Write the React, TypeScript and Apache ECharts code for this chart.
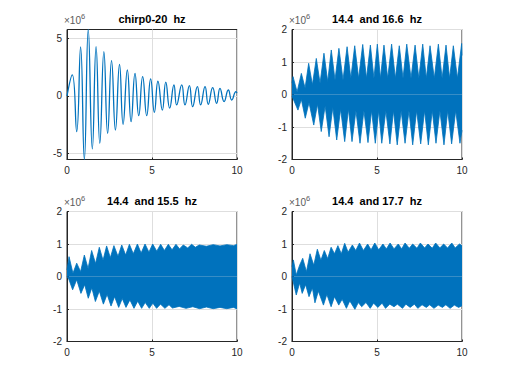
import React, { useEffect, useRef } from 'react';
import * as echarts from 'echarts';

const TITLES = ['chirp0-20  hz', '14.4  and 16.6  hz', '14.4  and 15.5  hz', '14.4  and 17.7  hz'];
const X_TICKS = [0, 5, 10];
const Y1_TICKS = [-5, 0, 5];
const Y1_MIN = -5.52;
const Y1_MAX = 5.78;
const EXPONENT = '6';

// chirp (panel 1): extremes
const chirpT = [0, 0.31, 0.57, 0.8, 1.02, 1.25, 1.49, 1.71, 1.93, 2.17, 2.39, 2.62, 2.85, 3.09, 3.3, 3.55, 3.77, 4.0, 4.22, 4.45, 4.69, 4.92, 5.14, 5.35, 5.61, 5.81, 6.04, 6.29, 6.45, 6.75, 6.94, 7.2, 7.39, 7.67, 7.86, 8.12, 8.31, 8.57, 8.8, 9.0, 9.24, 9.49, 9.69, 9.94, 10];
const chirpV = [0, 1.83, -3.1, 4.27, -5.52, 5.78, -4.6, 4.29, -4.12, 3.85, -3.25, 3.08, -2.96, 2.75, -2.46, 2.26, -2.23, 1.97, -1.71, 1.68, -1.71, 1.48, -1.42, 1.28, -1.22, 1.2, -1.05, 0.96, -0.78, 0.96, -0.78, 0.9, -0.93, 0.81, -0.78, 0.81, -0.72, 0.72, -0.64, 0.67, -0.49, 0.52, -0.35, 0.38, 0.25];

// panel 2: 14.4 and 16.6 hz envelope
const p2UpT = [0, 0.06, 0.3, 0.55, 0.77, 0.98, 1.2, 1.43, 1.65, 1.88, 2.1, 2.31, 2.53, 2.76, 3.0, 3.24, 3.46, 3.69, 3.92, 4.16, 4.38, 4.61, 4.82, 5.02, 5.2, 5.41, 5.63, 5.86, 6.08, 6.31, 6.53, 6.75, 7.0, 7.24, 7.46, 7.69, 7.9, 8.12, 8.37, 8.61, 8.83, 9.06, 9.27, 9.49, 9.73, 9.98, 10];
const p2UpV = [0.35, 0.55, 0.08, 0.65, 0.2, 0.96, 0.3, 1.11, 0.35, 1.27, 0.4, 1.37, 0.45, 1.42, 0.45, 1.47, 0.5, 1.5, 0.5, 1.54, 0.5, 1.52, 0.5, 1.55, 0.5, 1.52, 0.5, 1.55, 0.5, 1.5, 0.5, 1.55, 0.5, 1.52, 0.5, 1.55, 0.5, 1.5, 0.5, 1.55, 0.5, 1.52, 0.5, 1.5, 0.5, 1.57, 1.2];
const p2LoT = [0, 0.35, 0.55, 0.78, 1.0, 1.28, 1.5, 1.72, 1.95, 2.18, 2.4, 2.63, 2.86, 3.1, 3.32, 3.53, 3.76, 4.0, 4.23, 4.47, 4.68, 4.9, 5.1, 5.28, 5.52, 5.76, 5.97, 6.19, 6.42, 6.65, 6.88, 7.1, 7.33, 7.57, 7.8, 8.02, 8.25, 8.47, 8.7, 8.94, 9.16, 9.39, 9.63, 9.88, 10];
const p2LoV = [-0.05, -0.48, -0.15, -0.73, -0.25, -0.94, -0.3, -1.14, -0.35, -1.3, -0.4, -1.4, -0.45, -1.45, -0.45, -1.45, -0.5, -1.5, -0.5, -1.48, -0.5, -1.5, -0.5, -1.5, -0.5, -1.52, -0.5, -1.55, -0.5, -1.5, -0.5, -1.55, -0.5, -1.52, -0.5, -1.55, -0.5, -1.5, -0.5, -1.55, -0.5, -1.52, -0.5, -1.5, -1.1];

// panel 3: 14.4 and 15.5 hz envelope
const p3UpT = [0, 0.12, 0.35, 0.57, 0.8, 1.02, 1.24, 1.45, 1.68, 1.9, 2.12, 2.33, 2.55, 2.76, 3.0, 3.22, 3.45, 3.67, 3.9, 4.14, 4.36, 4.59, 4.82, 5.04, 5.28, 5.51, 5.73, 5.96, 6.18, 6.41, 6.62, 6.84, 7.1, 7.33, 7.55, 7.78, 8.2, 8.6, 9.0, 9.4, 9.8, 10];
const p3UpV = [0.2, 0.61, 0.1, 0.41, 0.15, 0.66, 0.25, 0.8, 0.4, 0.9, 0.5, 0.94, 0.58, 0.95, 0.62, 0.97, 0.66, 0.99, 0.7, 1.0, 0.72, 1.0, 0.75, 1.0, 0.78, 0.99, 0.8, 0.99, 0.82, 0.99, 0.85, 0.97, 0.88, 0.99, 0.9, 0.97, 0.93, 0.98, 0.94, 0.98, 0.95, 0.99];
const p3LoT = [0, 0.12, 0.33, 0.57, 0.82, 1.04, 1.25, 1.46, 1.67, 1.9, 2.14, 2.36, 2.59, 2.8, 3.04, 3.25, 3.47, 3.7, 3.94, 4.16, 4.39, 4.6, 4.84, 5.05, 5.27, 5.5, 5.76, 6.0, 6.2, 6.6, 7.0, 7.4, 7.8, 8.2, 8.6, 9.0, 9.4, 9.8, 10];
const p3LoV = [0, -0.1, -0.41, -0.1, -0.52, -0.25, -0.67, -0.35, -0.77, -0.45, -0.85, -0.55, -0.91, -0.62, -0.95, -0.68, -0.95, -0.72, -0.98, -0.76, -0.98, -0.8, -0.98, -0.82, -0.98, -0.85, -0.98, -0.87, -0.97, -0.92, -0.98, -0.93, -0.99, -0.94, -0.99, -0.95, -0.99, -0.95, -1.0];

// panel 4: 14.4 and 17.7 hz envelope
const p4UpT = [0, 0.08, 0.25, 0.45, 0.63, 0.85, 1.06, 1.28, 1.49, 1.7, 1.9, 2.1, 2.3, 2.5, 2.7, 2.9, 3.1, 3.3, 3.55, 3.75, 3.97, 4.2, 4.45, 4.65, 4.87, 5.1, 5.35, 5.55, 5.77, 6.0, 6.25, 6.45, 6.65, 6.9, 7.1, 7.35, 7.55, 7.8, 8.0, 8.25, 8.45, 8.7, 8.92, 9.15, 9.4, 9.6, 9.85, 10];
const p4UpV = [0.3, 0.51, 0.05, 0.35, 0.56, 0.15, 0.7, 0.35, 0.84, 0.5, 0.8, 0.55, 0.9, 0.7, 0.95, 0.7, 1.02, 0.75, 0.97, 0.8, 1.03, 0.8, 1.0, 0.82, 1.03, 0.82, 1.0, 0.85, 1.03, 0.85, 1.0, 0.85, 1.03, 0.87, 1.0, 0.87, 1.03, 0.88, 1.0, 0.87, 1.03, 0.88, 1.0, 0.88, 1.03, 0.88, 1.0, 0.95];
const p4LoT = [0, 0.25, 0.45, 0.6, 0.8, 1.0, 1.2, 1.35, 1.55, 1.85, 2.05, 2.3, 2.5, 2.75, 2.95, 3.2, 3.4, 3.7, 3.9, 4.1, 4.35, 4.6, 4.8, 5.05, 5.3, 5.5, 5.75, 6.0, 6.2, 6.5, 6.7, 6.95, 7.2, 7.4, 7.65, 7.9, 8.1, 8.35, 8.6, 8.85, 9.05, 9.3, 9.55, 9.8, 10];
const p4LoV = [0, -0.57, -0.2, -0.52, -0.25, -0.62, -0.35, -0.81, -0.45, -0.88, -0.55, -0.93, -0.62, -0.88, -0.7, -0.98, -0.75, -1.01, -0.8, -0.93, -0.8, -0.98, -0.82, -0.95, -0.82, -0.98, -0.85, -0.93, -0.85, -0.98, -0.85, -0.95, -0.85, -0.98, -0.87, -0.95, -0.87, -0.98, -0.88, -0.95, -0.87, -0.98, -0.88, -0.95, -0.9];

const BLUE = '#0072BD';
const AX = '#262626';
const GRIDC = '#dedede';
const FONT = '"Liberation Sans", Arial, Helvetica, sans-serif';

const GRIDS = [
  { left: 67, top: 29.5, width: 170, height: 130 },
  { left: 292, top: 29.5, width: 170, height: 130 },
  { left: 67, top: 211.5, width: 170, height: 130 },
  { left: 292, top: 211.5, width: 170, height: 130 },
];

const pairs = (t: number[], v: number[]) => t.map((x, i) => [x, v[i]]);

export default function App() {
  const ref = useRef<HTMLDivElement>(null);
  useEffect(() => {
    document.body.style.margin = '0';
    const chart = echarts.init(ref.current!, undefined, { renderer: 'svg' });
    const xAxes = GRIDS.map((_, i) => ({
      gridIndex: i,
      type: 'value',
      min: 0,
      max: 10,
      interval: 5,
      axisLine: { show: true, onZero: false, lineStyle: { color: AX, width: 1 } },
      axisTick: { show: true, inside: true, length: 2, lineStyle: { color: AX } },
      axisLabel: { show: true, color: AX, fontSize: 10, fontFamily: FONT, margin: 6, customValues: X_TICKS },
      splitLine: { show: true, lineStyle: { color: GRIDC, width: 1 } },
    }));
    const yAxes = GRIDS.map((_, i) => {
      const base: any = {
        gridIndex: i,
        type: 'value',
        axisLine: { show: true, lineStyle: { color: AX, width: 1 } },
        axisTick: { show: true, inside: true, length: 2, lineStyle: { color: AX } },
        axisLabel: { show: true, color: AX, fontSize: 10, fontFamily: FONT, margin: 5 },
        splitLine: { show: true, lineStyle: { color: GRIDC, width: 1 } },
      };
      if (i === 0) {
        base.min = Y1_MIN;
        base.max = Y1_MAX;
        base.axisTick.customValues = Y1_TICKS;
        base.axisLabel.customValues = Y1_TICKS;
      } else {
        base.min = -2;
        base.max = 2;
        base.interval = 1;
      }
      return base;
    });
    const bandSeries = (idx: number, t: number[], v: number[]) => ({
      type: 'line',
      xAxisIndex: idx,
      yAxisIndex: idx,
      data: pairs(t, v),
      showSymbol: false,
      symbol: 'none',
      lineStyle: { color: BLUE, width: 0.8 },
      areaStyle: { color: BLUE, opacity: 1 },
      z: 3,
    });
    const series: any[] = [
      {
        type: 'line',
        xAxisIndex: 0,
        yAxisIndex: 0,
        data: pairs(chirpT, chirpV),
        showSymbol: false,
        symbol: 'none',
        smooth: 0.5,
        lineStyle: { color: BLUE, width: 1.3 },
        z: 3,
      },
      bandSeries(1, p2UpT, p2UpV),
      bandSeries(1, p2LoT, p2LoV),
      bandSeries(2, p3UpT, p3UpV),
      bandSeries(2, p3LoT, p3LoV),
      bandSeries(3, p4UpT, p4UpV),
      bandSeries(3, p4LoT, p4LoV),
    ];
    const graphic: any[] = [];
    GRIDS.forEach((g) => {
      graphic.push({
        type: 'text', x: g.left - 3, y: g.top - 14,
        style: { text: '×10', fontSize: 10, fontFamily: FONT, fill: '#5a5a5a' },
      });
      graphic.push({
        type: 'text', x: g.left + 14, y: g.top - 17.5,
        style: { text: EXPONENT, fontSize: 7.5, fontFamily: FONT, fill: '#5a5a5a' },
      });
    });
    chart.setOption({
      animation: false,
      backgroundColor: '#fff',
      title: GRIDS.map((g, i) => ({
        text: TITLES[i],
        left: g.left + g.width / 2,
        top: g.top - 16,
        textAlign: 'center',
        padding: 0,
        textStyle: { fontSize: 11, fontWeight: 'bold', color: '#000', fontFamily: FONT },
      })),
      grid: GRIDS.map((g) => ({ ...g, show: true, borderColor: AX, borderWidth: 1, backgroundColor: 'transparent' })),
      xAxis: xAxes,
      yAxis: yAxes,
      series,
      graphic,
    });
    return () => chart.dispose();
  }, []);
  return <div ref={ref} style={{ width: 512, height: 384, position: 'absolute', left: 0, top: 0 }} />;
}
